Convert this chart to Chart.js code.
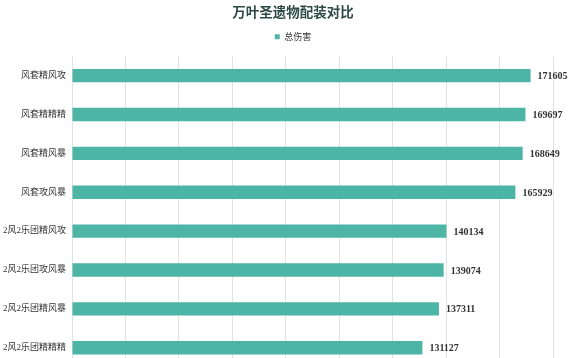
<!DOCTYPE html>
<html>
<head>
<meta charset="utf-8">
<script src="https://cdn.jsdelivr.net/npm/chart.js@4/dist/chart.umd.min.js"></script>
<style>
  html, body { margin: 0; padding: 0; background: #fff; overflow: hidden; }
  #wrap { position: relative; width: 586px; height: 390px; }
</style>
</head>
<body>
<div id="wrap"><canvas id="damage-chart"></canvas></div>
<script>
var chartTitle = "万叶圣遗物配装对比";
var seriesName = "总伤害";
var builds = ["风套精风攻", "风套精精精", "风套精风暴", "风套攻风暴",
              "2风2乐团精风攻", "2风2乐团攻风暴", "2风2乐团精风暴", "2风2乐团精精精"];
var totalDamage = [171605, 169697, 168649, 165929, 140134, 139074, 137311, 131127];
var axisMax = 180000;
var axisStep = 20000;

var barColor = "#4cb5a5";
var textColor = "#333333";

// draws the number just right of each bar
var valueLabels = {
    id: "valueLabels",
    afterDatasetsDraw: function(chart) {
        var ctx = chart.ctx;
        var meta = chart.getDatasetMeta(0);
        ctx.save();
        ctx.font = "bold 10px 'Liberation Serif', serif";
        ctx.fillStyle = textColor;
        ctx.textAlign = "left";
        ctx.textBaseline = "middle";
        meta.data.forEach(function(bar, i) {
            ctx.fillText(String(totalDamage[i]), bar.x + 7, bar.y + 1);
        });
        ctx.restore();
    }
};

// a bit more room under the legend
var legendGap = {
    id: "legendGap",
    beforeInit: function(chart) {
        var fit = chart.legend.fit;
        chart.legend.fit = function() {
            fit.call(this);
            this.height += 5;
        };
    }
};

var ctx = document.getElementById("damage-chart").getContext("2d");
var damageChart = new Chart(ctx, {
    type: "bar",
    data: {
        labels: builds,
        datasets: [{
            label: seriesName,
            data: totalDamage,
            backgroundColor: barColor,
            borderWidth: 0,
            categoryPercentage: 0.8,
            barPercentage: 0.43
        }]
    },
    options: {
        indexAxis: "y",
        responsive: true,
        maintainAspectRatio: false,
        animation: false,
        layout: { padding: { left: 0, right: 0, top: 0, bottom: 4 } },
        scales: {
            x: {
                min: 0,
                max: axisMax,
                ticks: { stepSize: axisStep, color: textColor, padding: 4,
                         font: { size: 9, family: "'Liberation Serif', serif" } },
                grid: { color: "#e2e2e2", drawTicks: false },
                border: { display: false }
            },
            y: {
                afterFit: function(scale) { scale.width = 72; },
                ticks: { color: textColor, padding: 6,
                         font: { size: 9, family: "'Liberation Serif', 'Noto Sans CJK SC', sans-serif" } },
                grid: { display: false, drawTicks: false },
                border: { display: false }
            },
            yRight: {
                type: "category",
                position: "right",
                afterFit: function(scale) { scale.width = 33; },
                ticks: { display: false },
                grid: { display: false, drawTicks: false },
                border: { display: false }
            }
        },
        plugins: {
            title: {
                display: true,
                text: chartTitle,
                color: "#2e4a47",
                font: { size: 13.5, weight: "bold", family: "'Noto Sans CJK SC', sans-serif" },
                padding: { top: 4, bottom: 4 }
            },
            legend: {
                labels: {
                    boxWidth: 5,
                    boxHeight: 5,
                    color: textColor,
                    padding: 8,
                    font: { size: 9, family: "'Noto Sans CJK SC', sans-serif" }
                }
            },
            tooltip: { enabled: false }
        }
    },
    plugins: [valueLabels, legendGap]
});
</script>
</body>
</html>
